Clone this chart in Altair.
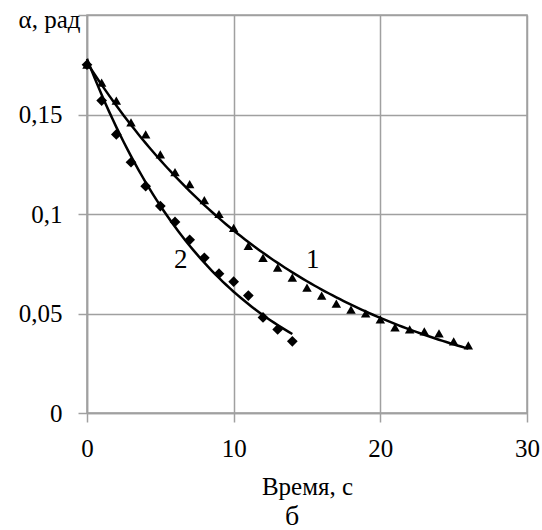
import altair as alt
import pandas as pd

# Series 1 (triangles)
t1 = list(range(0, 27))
a1 = [0.175, 0.166, 0.157, 0.146, 0.140, 0.130, 0.121, 0.115, 0.107, 0.100,
      0.093, 0.084, 0.078, 0.073, 0.068, 0.063, 0.059, 0.055, 0.052, 0.050,
      0.047, 0.043, 0.042, 0.041, 0.040, 0.036, 0.034]
# Series 2 (diamonds)
t2 = list(range(0, 15))
a2 = [0.175, 0.157, 0.140, 0.126, 0.114, 0.104, 0.096, 0.087, 0.078, 0.070,
      0.066, 0.059, 0.048, 0.042, 0.036]
# curve labels
label_text = ["1", "2"]
label_t = [15.4, 6.4]
label_a = [0.077, 0.077]

x_ticks = [0, 10, 20, 30]
y_ticks = [0, 0.05, 0.1, 0.15, 0.2]

df1 = pd.DataFrame({"t": t1, "a": a1})
df2 = pd.DataFrame({"t": t2, "a": a2})
dfl = pd.DataFrame({"t": label_t, "a": label_a, "txt": label_text})

FONT = "Liberation Serif"
GRID = "#a0a0a0"

xs = alt.Scale(domain=[0, 30], nice=False, zero=False)
ys = alt.Scale(domain=[0, 0.2], nice=False, zero=False)

x_axis = alt.Axis(values=x_ticks, title="Время, с", grid=True, gridColor=GRID, gridWidth=1.5,
                  domainColor=GRID, domainWidth=1.5, tickColor=GRID, tickWidth=1.5, tickSize=9,
                  labelFont=FONT, labelFontSize=25, labelColor="black", labelPadding=14,
                  labelFlush=False, labelOverlap=False,
                  titleFont=FONT, titleFontSize=25, titleFontWeight="normal", titleColor="black",
                  titlePadding=13, format="d")
y_axis = alt.Axis(values=y_ticks, title="α, рад", grid=True, gridColor=GRID, gridWidth=1.5,
                  domainColor=GRID, domainWidth=1.5, tickColor=GRID, tickWidth=1.5, tickSize=9,
                  labelFont=FONT, labelFontSize=25, labelColor="black", labelPadding=16,
                  labelFlush=False, labelOverlap=False,
                  labelExpr="datum.value == 0.2 ? '' : replace(toString(datum.value), '.', ',')",
                  titleFont=FONT, titleFontSize=25, titleFontWeight="normal", titleColor="black",
                  titleAngle=0, titleAlign="right", titleBaseline="middle", titleX=-7, titleY=4)

base_x = alt.X("t:Q", scale=xs, axis=x_axis)
base_y = alt.Y("a:Q", scale=ys, axis=y_axis)


def trend(df, t_max, with_axes=False):
    # exponential trend line fitted as a straight line on log(a) (unweighted, as in a spreadsheet)
    enc_x = base_x if with_axes else alt.X("t:Q", scale=xs)
    enc_y = base_y if with_axes else alt.Y("a:Q", scale=ys)
    return (alt.Chart(df)
            .transform_calculate(la="log(datum.a)")
            .transform_regression("t", "la", method="linear", params=True)
            .transform_calculate(t=f"sequence(0, {t_max} + 0.001, 0.25)")
            .transform_flatten(["t"])
            .transform_calculate(a="exp(datum.coef[0] + datum.coef[1] * datum.t)")
            .mark_line(color="black", strokeWidth=2.5)
            .encode(x=enc_x, y=enc_y))


line1 = trend(df1, 26, with_axes=True)
line2 = trend(df2, 14)
pts1 = alt.Chart(df1).mark_point(shape="triangle-up", filled=True, color="black", size=90, opacity=1).encode(
    x=alt.X("t:Q", scale=xs), y=alt.Y("a:Q", scale=ys))
pts2 = alt.Chart(df2).mark_point(shape="diamond", filled=True, color="black", size=115, opacity=1).encode(
    x=alt.X("t:Q", scale=xs), y=alt.Y("a:Q", scale=ys))
labels = alt.Chart(dfl).mark_text(font=FONT, fontSize=27, color="black").encode(
    x=alt.X("t:Q", scale=xs), y=alt.Y("a:Q", scale=ys), text="txt:N")

chart = alt.layer(line1, line2, pts1, pts2, labels).properties(
    width=440, height=398,
    autosize=alt.AutoSizeParams(type="none"),
    padding={"left": 87, "top": 15, "right": 15, "bottom": 117},
    title=alt.TitleParams(text="б", orient="bottom", font=FONT, fontSize=28, fontWeight="normal",
                          color="black", anchor="middle", offset=4, dx=-15),
).configure_view(stroke=GRID, strokeWidth=1.5)

chart.save("out.html", embed_options={"renderer": "svg", "actions": False})
